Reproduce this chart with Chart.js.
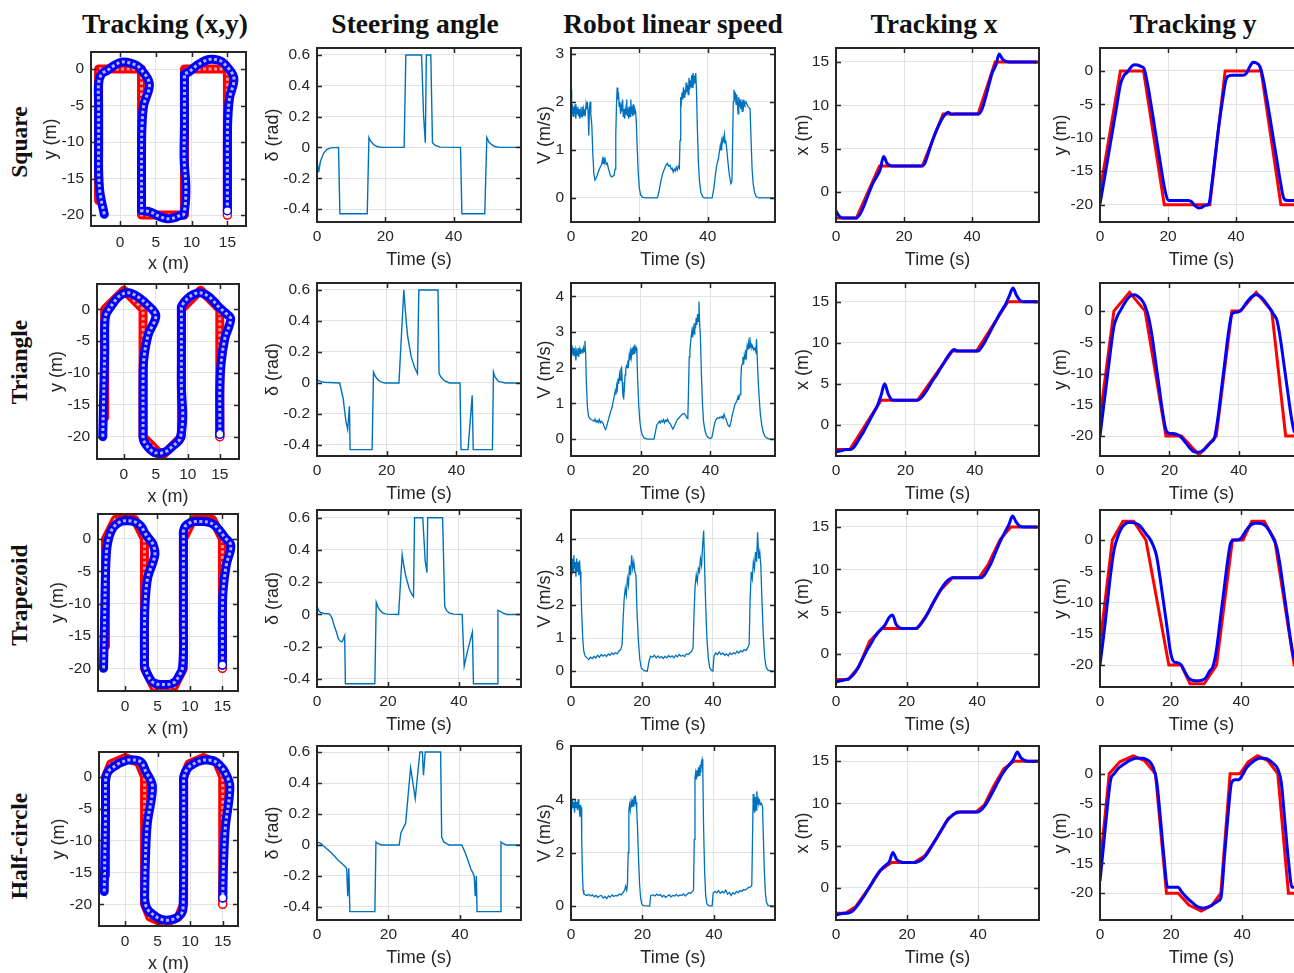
<!DOCTYPE html>
<html>
<head>
<meta charset="utf-8">
<script src="https://cdn.jsdelivr.net/npm/chart.js@4.4.1/dist/chart.umd.min.js"></script>
<style>
html, body { margin: 0; padding: 0; background: #fff; overflow: hidden; }
#fig { position: relative; width: 1294px; height: 973px; overflow: hidden; background: #fff; }
#fig canvas { position: absolute; }
.col-title { position: absolute; font: bold 27.5px "Liberation Serif", "Times New Roman", serif; color: #111;
  white-space: nowrap; line-height: 1; transform: translateX(-50%); }
.row-title { position: absolute; font: bold 23.5px "Liberation Serif", "Times New Roman", serif; color: #111;
  white-space: nowrap; line-height: 1; transform: translate(-50%, -50%) rotate(-90deg); }
</style>
</head>
<body>
<div id="fig"></div>
<script>
// ---------------- labels ----------------
const columnTitles = ['Tracking (x,y)', 'Steering angle', 'Robot linear speed', 'Tracking x', 'Tracking y'];
const shapeNames = ['Square', 'Triangle', 'Trapezoid', 'Half-circle'];

// ---------------- tick values ----------------
const timeTicks = [0, 20, 40];
const planXTicks = [0, 5, 10, 15];
const planYTicks = [0, -5, -10, -15, -20];
const steerTicks = [0.6, 0.4, 0.2, 0, -0.2, -0.4];
const speedTicksSquare = [0, 1, 2, 3];
const speedTicksTriangle = [0, 1, 2, 3, 4];
const speedTicksTrapezoid = [0, 1, 2, 3, 4];
const speedTicksHalf = [0, 2, 4, 6];
const posXTicks = [0, 5, 10, 15];
const posYTicks = [0, -5, -10, -15, -20];

// sample clock of the logged robot pose (s)
const sampleT = [0,1,2,3,4,5,6,7,8,9,10,11,12,13,14,15,16,17,18,19,20,21,22,23,24,25,26,27,28,29,
  30,31,32,33,34,35,36,37,38,39,40,41,42,43,44,45,46,47,48,49,50,51,52,53,54,55,56,57,58,59];

// ---------------- Square ----------------
const sqRefT = [0, 6, 12.8, 18.9, 25.4, 31.5, 32.3, 36.8, 41.8, 46.8, 47.4, 53.2, 59.7];
const sqRefX = [-3, -3, 3, 3, 3, 9, 9, 9, 9, 15, 15, 15, 15];
const sqRefY = [-18, 0, 0, -20, -20, -20, -20, 0, 0, 0, 0, -20, -20];
const sqX = [-2.2,-2.8,-3,-3,-3,-3,-3,-2.6,-1.8,-0.8, 0.2,1.1,1.8,2.6,4.1,3.3,3.05,3,3,3,
  3,3,3,3,3,3,3.2,4.3,5.5,6.6, 7.5,8.3,8.9,9.2,8.95,9,9,9,9,9, 9,9,9,9.6,10.9,12.4,13.8,14.6,15.9,15.3,
  15.05,15,15,15,15,15,15,15,15,15];
const sqY = [-19.9,-17,-14,-11,-8,-5,-2,-0.7,-0.2,0.5, 0.95,0.9,0.7,0.3,-2,-5,-8.2,-11.4,-14.6,-17.6,
  -19.3,-19.4,-19.4,-19.4,-19.4,-19.4,-19.4,-19.6,-20.2,-20.5, -20.4,-20.1,-19.9,-16.5,-12.2,-8,-4.5,-1.4,-0.7,-0.65,
  -0.65,-0.65,-0.65,-0.4,0.6,1.3,1.2,0.7,-1.2,-4, -7,-10.2,-13.3,-16.4,-19,-19.4,-19.4,-19.4,-19.4,-19.4];
const sqSteer = [[0,-0.18],[0.3,-0.13],[0.5,-0.16],[1,-0.09],[2,-0.035],[3,-0.012],[4,-0.003],[6.3,0],[6.7,-0.43],
  [14.7,-0.43],[15.2,0.065],[15.7,0.04],[16.5,0.02],[17.5,0.006],[19,0],[25.5,0],[26,0.6],[30.6,0.6],[31.2,0.2],
  [31.7,0.03],[32,0.6],[33.3,0.6],[33.8,0.03],[34.5,0.015],[36,0.002],[42,0],[42.4,-0.43],[49.1,-0.43],[49.7,0.065],
  [50.3,0.035],[51,0.02],[52,0.006],[53.5,0],[59.7,0]];
const sqSpeed = [[0,2.25],[0.2,1.75],[0.4,1.95],[0.6,1.7],[0.8,1.9],[1,1.8],[1.2,1.95],[1.4,1.65],[1.6,1.85],[1.8,1.75],
  [2,1.9],[2.2,1.7],[2.4,1.85],[2.6,1.65],[2.8,1.8],[3,1.7],[3.2,1.9],[3.4,1.75],[3.6,1.85],[3.8,1.7],[4,1.8],
  [4.2,1.75],[4.4,1.95],[4.6,1.85],[4.8,2],[5,1.8],[5.2,1.3],[5.4,1.85],[5.6,2],[5.8,1.75],[6.1,1.5],[6.4,0.9],
  [6.7,0.5],[7,0.37],[7.4,0.42],[7.8,0.5],[8.2,0.58],[8.6,0.65],[9,0.7],[9.2,0.8],[9.4,0.72],[9.6,0.85],[9.8,0.74],
  [10,0.8],[10.3,0.7],[10.6,0.72],[11,0.6],[11.4,0.5],[11.8,0.44],[12.2,0.45],[12.6,0.47],[12.9,0.6],[13.1,1.3],
  [13.3,1.9],[13.5,2.3],[13.7,2.05],[13.9,2.2],[14.1,1.9],[14.3,2],[14.5,1.75],[14.7,1.9],[14.9,1.8],[15.1,2.05],
  [15.3,1.7],[15.5,1.85],[15.7,1.65],[15.9,1.85],[16.1,1.75],[16.3,2.05],[16.5,1.7],[16.7,1.8],[16.9,1.65],[17.1,1.9],
  [17.3,1.7],[17.5,2.05],[17.7,1.75],[17.9,1.85],[18.1,1.7],[18.3,1.95],[18.5,1.75],[18.7,1.85],[18.9,1.8],[19.1,1.6],
  [19.4,1],[19.7,0.5],[20,0.2],[20.4,0.06],[21,0.01],[22,0],[25.3,0],[25.8,0.15],[26.3,0.35],[26.8,0.5],[27.3,0.6],
  [27.8,0.68],[28.2,0.72],[28.6,0.66],[29,0.68],[29.3,0.6],[29.6,0.62],[29.9,0.54],[30.2,0.6],[30.5,0.56],[30.8,0.64],
  [31.1,0.58],[31.4,0.66],[31.7,0.62],[31.9,1.2],[32.1,2.1],[32.3,2],[32.5,2.2],[32.7,2.05],[32.9,2.3],[33.1,2.1],
  [33.3,2.25],[33.5,2.15],[33.7,2.4],[33.9,2.2],[34.1,2.35],[34.3,2.15],[34.5,2.5],[34.7,2.25],[34.9,2.45],[35.1,2.3],
  [35.3,2.55],[35.5,2.3],[35.7,2.6],[35.9,2.35],[36.1,2.55],[36.3,2.4],[36.5,2.6],[36.7,2.3],[37,1.4],[37.3,0.7],
  [37.6,0.35],[38,0.12],[38.5,0.03],[39,0],[41.3,0],[41.8,0.2],[42.3,0.5],[42.7,0.7],[43.1,0.8],[43.4,0.95],[43.7,1.1],
  [43.9,1],[44.1,1.2],[44.3,1.15],[44.5,1.25],[44.7,1.2],[44.9,1.32],[45.1,1.15],[45.3,1.2],[45.6,1],[46,0.7],[46.4,0.45],
  [46.8,0.3],[47.1,0.35],[47.3,1.2],[47.5,2],[47.7,2.25],[47.9,2.1],[48.1,2.2],[48.3,1.95],[48.5,2.15],[48.7,2],
  [48.9,1.75],[49.1,2.1],[49.3,1.9],[49.5,2.05],[49.7,1.85],[49.9,2],[50.1,1.8],[50.3,2.05],[50.5,1.9],[50.7,2],
  [50.9,1.95],[51.2,2],[51.5,1.95],[51.8,1.9],[52.1,1.88],[52.4,1.85],[52.7,1.2],[53,0.6],[53.3,0.3],[53.7,0.12],
  [54.2,0.03],[55,0],[59.7,0]];

// ---------------- Triangle ----------------
const triRefT = [0, 4, 8.5, 13, 19, 23.5, 28.5, 33.5, 38, 40.5, 45, 49.5, 53.5, 58.5];
const triRefX = [-3, -3, 0, 3, 3, 3, 6, 9, 9, 9, 12, 15, 15, 15];
const triRefY = [-17, 0, 3, 0, -20, -20, -23, -20, 0, 0, 3, 0, -20, -20];
const triX = [-3.3,-3.2,-3.1,-3,-3,-2.8,-2.2,-1.5,-0.8,0, 0.8,1.6,2.4,3.6,5,3.8,3.1,3,3,3,
  3,3,3,3,3.1,3.5,4.1,4.8,5.5,6.1, 6.8,7.5,8.2,8.8,9.2,9,9,9,9,9, 9,9,9.5,10.2,11,11.8,12.6,13.4,14.1,14.8,
  15.8,16.7,15.8,15.2,15,15,15,15,15];
const triY = [-20,-15.5,-11,-6.5,-2.5,-0.8,0.2,1.2,2,2.5, 2.6,2.3,1.8,0.8,-1,-4,-8,-12,-16,-19,
  -19.6,-19.6,-19.7,-20,-20.6,-21.3,-22,-22.5,-22.6,-22.5, -22.2,-21.6,-21,-20.3,-17,-12.5,-8,-3.5,-0.5,-0.2,
  -0.1,0.4,1.2,1.9,2.4,2.6,2.4,1.9,1.2,0.4, -0.5,-1.5,-4.5,-8.5,-12.5,-16.5,-19.3,-19.6,-19.6];
const triSteer = [[0,0.02],[1,0.01],[2,0.005],[6.5,0],[7.5,-0.1],[8.3,-0.25],[8.8,-0.3],[9.3,-0.15],[9.5,-0.43],
  [15.8,-0.43],[16.2,0.07],[16.8,0.04],[17.5,0.02],[18.5,0.005],[19.5,0],[23.5,0],[24.9,0.6],[25.5,0.42],[26,0.3],
  [27,0.17],[28,0.1],[28.8,0.06],[29.2,0.6],[34.7,0.6],[35,0.06],[35.5,0.04],[36.5,0.015],[38,0],[41,0],[41.3,-0.43],
  [43.3,-0.43],[44.5,-0.08],[44.8,-0.43],[50.3,-0.43],[50.6,0.07],[51,0.04],[52,0.01],[54,0],[58.5,0]];
const triSpeed = [[0,2.65],[0.2,2.4],[0.4,2.6],[0.6,2.35],[0.8,2.55],[1,2.4],[1.2,2.5],[1.4,2.2],[1.6,2.45],[1.8,2.35],
  [2,2.55],[2.2,2.3],[2.4,2.5],[2.6,2.4],[2.8,2.5],[3,2.45],[3.2,2.5],[3.4,2.4],[3.6,2.55],[3.8,2.45],[4,2.75],[4.2,2.4],
  [4.4,1.6],[4.7,0.9],[5,0.65],[5.4,0.58],[5.8,0.55],[6.2,0.53],[6.6,0.5],[6.9,0.56],[7.2,0.48],[7.5,0.52],[7.8,0.47],
  [8.1,0.55],[8.4,0.46],[8.7,0.5],[9,0.47],[9.3,0.42],[9.6,0.32],[9.9,0.27],[10.2,0.35],[10.6,0.5],[11,0.65],[11.4,0.78],
  [11.8,0.9],[12.1,1.05],[12.4,1.2],[12.7,1.35],[12.9,1.25],[13.1,1.5],[13.3,1.4],[13.5,1.7],[13.7,1.55],[13.9,1.8],
  [14.1,1.65],[14.3,1.95],[14.5,2],[14.7,1.6],[14.9,1.2],[15.1,1.15],[15.3,1.4],[15.5,1.8],[15.7,1.95],[15.9,2.05],
  [16.1,2],[16.3,2.2],[16.5,2.1],[16.7,2.35],[16.9,2.2],[17.1,2.45],[17.3,2.3],[17.5,2.55],[17.7,2.35],[17.9,2.6],
  [18.1,2.4],[18.3,2.65],[18.5,2.5],[18.7,2.55],[18.9,2.4],[19.1,1.7],[19.4,1],[19.7,0.55],[20,0.3],[20.4,0.12],
  [21,0.03],[22,0],[23.8,0],[24.2,0.2],[24.6,0.4],[25,0.45],[25.3,0.5],[25.6,0.45],[25.9,0.52],[26.2,0.48],[26.5,0.55],
  [26.8,0.46],[27.1,0.53],[27.4,0.5],[27.7,0.56],[28,0.48],[28.4,0.44],[28.8,0.36],[29.2,0.28],[29.6,0.35],[30,0.45],
  [30.5,0.55],[31,0.6],[31.5,0.66],[32,0.7],[32.5,0.72],[32.9,0.66],[33.2,0.6],[33.5,0.58],[33.7,1.4],[33.9,2.3],
  [34.1,2.5],[34.3,2.7],[34.5,2.9],[34.7,3.05],[34.9,2.85],[35.1,3.1],[35.3,2.95],[35.5,3.25],[35.7,3.1],[35.9,3.4],
  [36.1,3.2],[36.3,3.5],[36.5,3.3],[36.7,3.85],[36.9,3.2],[37.1,2.9],[37.4,1.8],[37.7,1],[38,0.5],[38.4,0.25],
  [38.8,0.12],[39.3,0.05],[40,0.02],[40.4,0.05],[40.8,0.25],[41.2,0.45],[41.6,0.55],[42,0.6],[42.4,0.58],[42.7,0.62],
  [43,0.6],[43.3,0.64],[43.6,0.58],[43.9,0.7],[44.2,0.6],[44.5,0.55],[44.8,0.45],[45.1,0.38],[45.5,0.35],[45.9,0.5],
  [46.3,0.7],[46.7,0.85],[47.1,1],[47.5,1.05],[47.9,1.2],[48.1,1.1],[48.3,1.2],[48.5,1.25],[48.7,1.65],[48.9,2.05],
  [49.1,2.1],[49.3,2.3],[49.5,2.1],[49.7,2.35],[49.9,2.25],[50.1,2.5],[50.3,2.35],[50.5,2.6],[50.7,2.5],[50.9,2.7],
  [51.1,2.55],[51.3,2.85],[51.5,2.6],[51.7,2.65],[51.9,2.55],[52.1,2.6],[52.4,2.5],[52.7,2.55],[53,2.45],[53.2,2.8],
  [53.4,2.3],[53.7,1.6],[54,1.1],[54.3,0.7],[54.7,0.4],[55.1,0.2],[55.6,0.08],[56.2,0.03],[57,0],[58.5,0]];

// ---------------- Trapezoid ----------------
const trapRefT = [0, 3.5, 6.5, 9.5, 13, 19.5, 23, 25.5, 29.5, 33, 37.5, 40.5, 43, 46.5, 49.5, 55, 57.5];
const trapRefX = [-3, -3, -1.5, 1.5, 3, 3, 3, 4.5, 7.5, 9, 9, 9, 10.5, 13.5, 15, 15, 15];
const trapRefY = [-16.6, 0, 3, 3, 0, -20, -20, -23, -23, -20, 0, 0, 3, 3, 0, -20, -20];
const trapX = [-3.3,-3.2,-3.1,-3,-2.8,-2.4,-1.8,-1,-0.2,0.6, 1.3,2,2.6,3,3.5,4.3,4.6,3.5,3.1,3,
  3,3,3,3.1,3.5,4.1,4.8,5.6,6.4,7.1, 7.8,8.4,8.8,9,9,9,9,9,9,9, 9,9,9.3,10,10.8,11.8,12.8,13.7,14.5,15.3,
  16.3,15.6,15.1,15,15,15,15,15];
const trapY = [-20,-15.5,-10.5,-5.5,-1.5,0.5,1.8,2.5,2.8,2.8, 2.7,2.4,1.8,1,0.3,-0.8,-2.5,-6,-10,-14,
  -18,-19.5,-19.6,-20,-21,-22,-22.4,-22.5,-22.5,-22.4, -22,-21,-20.2,-17.5,-13,-8.5,-4,-0.5,0,0,
  0.3,1.2,2,2.5,2.7,2.7,2.6,2.2,1.4,0.3, -1,-4,-8,-12,-16,-19,-19.5,-19.5];
const trapSteer = [[0,0.05],[0.5,0.025],[1,0.012],[2,0.006],[3.5,0.004],[4.2,-0.02],[5,-0.08],[5.5,-0.11],[6,-0.15],
  [6.5,-0.165],[7,-0.17],[7.3,-0.16],[7.8,-0.13],[8,-0.43],[16.3,-0.43],[16.7,0.075],[17.2,0.045],[17.8,0.025],
  [18.5,0.01],[19.5,0.002],[23,0],[24,0.37],[24.5,0.3],[25,0.24],[25.5,0.2],[26,0.16],[26.6,0.13],[27.2,0.11],
  [27.5,0.6],[29.8,0.6],[30.2,0.45],[30.5,0.33],[31,0.26],[31.2,0.6],[35.4,0.6],[36,0.05],[36.5,0.025],[37.2,0.01],
  [38.5,0.002],[40.9,0],[41.5,-0.32],[42.5,-0.22],[43.8,-0.11],[44.1,-0.43],[50.8,-0.43],[51,0.025],[51.5,0.02],
  [52.5,0.008],[53.5,0],[57.5,0]];
const trapSpeed = [[0,3.2],[0.2,2.9],[0.4,3.4],[0.6,3],[0.8,3.5],[1,3.1],[1.2,3.3],[1.4,2.85],[1.6,3.4],[1.8,3],
  [2,3.3],[2.2,2.9],[2.4,3.35],[2.6,3],[2.8,2.6],[3,1.8],[3.3,1],[3.6,0.6],[4,0.45],[4.5,0.4],[5,0.35],[5.5,0.42],
  [6,0.38],[6.5,0.45],[7,0.4],[7.5,0.48],[8,0.42],[8.5,0.5],[9,0.45],[9.5,0.5],[10,0.44],[10.5,0.52],[11,0.48],
  [11.5,0.55],[12,0.5],[12.5,0.56],[13,0.52],[13.5,0.6],[14,0.65],[14.4,0.8],[14.7,1.6],[15,2.2],[15.3,2.5],[15.6,2.3],
  [15.9,2.8],[16.2,2.6],[16.5,3.2],[16.8,2.9],[17.1,3.5],[17.4,3.1],[17.7,3.3],[18,3],[18.3,2.9],[18.6,1.8],[19,0.9],
  [19.4,0.35],[19.8,0.1],[20.5,0.02],[21.5,0],[22,0.3],[22.4,0.45],[23,0.42],[23.5,0.48],[24,0.4],[24.5,0.46],[25,0.4],
  [25.5,0.44],[26,0.38],[26.5,0.45],[27,0.4],[27.5,0.47],[28,0.42],[28.5,0.46],[29,0.4],[29.5,0.48],[30,0.43],
  [30.5,0.5],[31,0.45],[31.5,0.48],[32,0.44],[32.5,0.52],[33,0.5],[33.5,0.55],[34,0.6],[34.4,0.7],[34.7,1.8],[35,2.6],
  [35.3,2.9],[35.6,2.7],[35.9,3.1],[36.2,3],[36.5,3.4],[36.8,3.2],[37.1,3.8],[37.4,4.25],[37.6,3.4],[37.9,2.2],[38.3,1],
  [38.7,0.4],[39.1,0.1],[39.6,0.02],[40,0],[40.3,0.45],[40.8,0.55],[41.3,0.5],[41.8,0.58],[42.3,0.5],[42.8,0.55],
  [43.3,0.48],[43.8,0.52],[44.3,0.46],[44.8,0.55],[45.3,0.5],[45.8,0.56],[46.3,0.52],[46.8,0.6],[47.3,0.55],[47.8,0.62],
  [48.3,0.58],[48.8,0.65],[49.3,0.62],[49.8,0.7],[50.2,0.8],[50.5,2.2],[50.8,3],[51.1,2.8],[51.4,3.3],[51.7,3.1],
  [52,3.6],[52.3,3.3],[52.6,4.2],[52.9,3.4],[53.2,3.6],[53.5,3.2],[53.8,2.2],[54.2,1.1],[54.6,0.4],[55,0.12],[55.5,0.03],
  [56.5,0],[57.5,0]];

// ---------------- Half-circle ----------------
const halfRefT = [0, 2.6, 5.6, 9.3, 12.5, 15.6, 18.7, 22, 25, 28.5, 31.5, 34, 36.6, 39.4, 41.7, 44.3, 47.2, 50, 53, 57.1];
const halfRefX = [-3, -3, -2.2, 0, 2.1, 3, 3, 3, 3.8, 6, 8.2, 9, 9, 9, 9.8, 12, 14.1, 15, 15, 15];
const halfRefY = [-15.5, 0, 2, 3, 2.2, 0, -20, -20, -22, -23, -22, -20, 0, 0, 2, 3, 2.2, 0, -20, -20];
const halfX = [-3.2,-3.1,-3,-3,-2.9,-2.6,-2.1,-1.5,-0.9,-0.2, 0.5,1.2,1.8,2.3,2.7,3.1,4.2,3.4,3.1,3,
  3,3,3,3.1,3.3,3.7,4.3,5,5.7,6.4, 7.1,7.8,8.3,8.7,8.9,9,9,9,9,9, 9,9.3,9.8,10.5,11.3,12.1,12.9,13.6,14.2,14.7,
  15.3,16.1,15.4,15.1,15,15,15,15];
const halfY = [-18,-12,-6,-1,0,0.8,1.3,1.7,2.1,2.4, 2.6,2.6,2.6,2.4,2,1,-1.5,-7.5,-14,-19,
  -19,-19,-19,-19.8,-20.5,-21.1,-21.6,-22.1,-22.4,-22.5, -22.4,-22.2,-21.8,-21.4,-20.8,-14,-7,-1.5,-1,-1,
  -0.3,0.8,1.5,2,2.4,2.6,2.6,2.5,2.1,1.6, 0.8,-1.5,-8,-14.5,-19,-19,-19,-19];
const halfSteer = [[0,0.02],[1,0.01],[2,-0.01],[4,-0.05],[6,-0.1],[7.5,-0.13],[8.3,-0.15],[8.6,-0.33],[8.9,-0.15],
  [9.2,-0.43],[16.2,-0.43],[16.5,0.02],[17,0.01],[18,0],[23,0],[23.5,0.08],[24.8,0.14],[26.2,0.5],[27.5,0.3],
  [28.8,0.6],[29.5,0.6],[29.8,0.45],[30.3,0.6],[34.6,0.6],[34.9,0.05],[35.5,0.02],[37,0],[40.5,0],[41.5,-0.05],
  [43,-0.15],[44,-0.2],[44.3,-0.33],[44.6,-0.2],[44.8,-0.43],[51.3,-0.43],[51.5,0.02],[52,0.01],[53,0],[57.1,0]];
const halfSpeed = [[0,3.8],[0.2,3.6],[0.4,4],[0.6,3.7],[0.8,3.9],[1,3.5],[1.2,4],[1.4,3.7],[1.6,3.9],[1.8,3.6],[2,4],
  [2.2,3.7],[2.4,3.5],[2.6,3.8],[2.7,3.35],[2.9,3.7],[3,2.5],[3.2,1.2],[3.4,0.6],[3.6,0.45],[4,0.42],[4.5,0.4],[5,0.44],
  [5.5,0.38],[6,0.42],[6.5,0.35],[7,0.4],[7.5,0.33],[8,0.38],[8.5,0.4],[9,0.3],[9.5,0.36],[10,0.28],[10.5,0.38],
  [11,0.34],[11.5,0.42],[12,0.36],[12.5,0.4],[13,0.38],[13.5,0.45],[14,0.42],[14.5,0.5],[15,0.6],[15.3,0.75],[15.6,0.6],
  [15.8,0.8],[16,2],[16.2,3.6],[16.4,3.8],[16.6,3.6],[16.8,3.9],[17,3.7],[17.2,4],[17.4,3.75],[17.6,4.1],[17.8,3.8],
  [18,4.15],[18.2,3.9],[18.4,3.6],[18.6,3],[18.9,1.8],[19.2,0.8],[19.5,0.3],[19.8,0.08],[20.2,0.02],[22,0],[22.3,0.4],
  [23,0.42],[23.5,0.38],[24,0.45],[24.5,0.4],[25,0.43],[25.5,0.35],[26,0.4],[26.5,0.33],[27,0.38],[27.5,0.42],[28,0.35],
  [28.5,0.4],[29,0.38],[29.5,0.44],[30,0.37],[30.5,0.42],[31,0.4],[31.5,0.46],[32,0.38],[32.5,0.45],[33,0.5],[33.5,0.48],
  [34,0.55],[34.3,0.6],[34.5,2.5],[34.7,4.8],[34.9,5],[35.1,4.75],[35.3,5.1],[35.5,4.85],[35.7,5.2],[35.9,4.9],[36.1,5.3],
  [36.3,5],[36.5,5.4],[36.7,5.5],[36.9,5],[37.1,3],[37.4,1.3],[37.7,0.4],[38,0.1],[38.5,0.02],[39.5,0],[39.8,0.5],
  [40.3,0.55],[40.8,0.5],[41.3,0.58],[41.8,0.48],[42.3,0.55],[42.8,0.5],[43.3,0.6],[43.8,0.45],[44.3,0.52],[44.8,0.4],
  [45.3,0.5],[45.8,0.45],[46.3,0.55],[46.8,0.5],[47.3,0.58],[47.8,0.55],[48.3,0.62],[48.8,0.6],[49.3,0.66],[49.8,0.7],
  [50.3,0.72],[50.6,0.78],[50.8,2.5],[51,4.2],[51.2,3.7],[51.4,3.5],[51.6,4.1],[51.8,3.6],[52,4.3],[52.2,3.8],[52.4,4],
  [52.6,3.85],[52.8,3.95],[53,3.8],[53.3,3.85],[53.6,3.75],[53.8,2.8],[54.1,1.4],[54.4,0.5],[54.7,0.15],[55.2,0.02],
  [57.1,0]];

// ---------------- figure layout ----------------
const INK = '#262626';
const GRID = '#e3e3e3';
const REF_RED = '#ff0000';
const ACT_BLUE = '#0000ff';
const LINE_BLUE = '#0072bd';
const PL = 72, PT = 20, PR = 10, PB = 52;   // canvas margins around each plot box
Chart.defaults.font.family = '"Liberation Sans", Arial, sans-serif';

const fig = document.getElementById('fig');

const titleX = [165, 415, 673, 934, 1193];
const rowCenterY = [142, 362, 595, 846];
const rowTop = [48, 283, 510, 746];
const rowBottom = [222, 456, 687, 920];
const planBox = [[91, 52, 246, 226], [97, 284, 239, 459], [98, 514, 238, 691], [99, 752, 238, 926]];
const planRange = [
  { x: [-4.06, 17.6], y: [-21.5, 2.33] },
  { x: [-4.2, 18.0], y: [-23.5, 3.97] },
  { x: [-4.15, 17.4], y: [-23.5, 3.86] },
  { x: [-4.0, 17.35], y: [-23.4, 3.87] }
];
const tEnd = [59.7, 58.5, 57.5, 57.1];
const steerRange = [[-0.484, 0.645], [-0.471, 0.645], [-0.45, 0.648], [-0.484, 0.639]];
const speedRange = [[-0.5, 3.12], [-0.47, 4.37], [-0.48, 4.87], [-0.52, 6.0]];
const posXRange = [[-3.46, 16.6], [-3.8, 17.3], [-3.9, 17.0], [-3.8, 16.8]];
const posYRange = [[-22.6, 3.44], [-23.2, 4.5], [-23.5, 4.8], [-24.5, 4.64]];

const rows = [
  { refT: sqRefT, refX: sqRefX, refY: sqRefY, x: sqX, y: sqY, steer: sqSteer, speed: sqSpeed, vTicks: speedTicksSquare },
  { refT: triRefT, refX: triRefX, refY: triRefY, x: triX, y: triY, steer: triSteer, speed: triSpeed, vTicks: speedTicksTriangle },
  { refT: trapRefT, refX: trapRefX, refY: trapRefY, x: trapX, y: trapY, steer: trapSteer, speed: trapSpeed, vTicks: speedTicksTrapezoid },
  { refT: halfRefT, refX: halfRefX, refY: halfRefY, x: halfX, y: halfY, steer: halfSteer, speed: halfSpeed, vTicks: speedTicksHalf }
];

// ---------------- titles ----------------
columnTitles.forEach((txt, i) => {
  const d = document.createElement('div');
  d.className = 'col-title';
  d.textContent = txt;
  d.style.left = titleX[i] + 'px';
  d.style.top = (33 - 0.8375 * 27.5) + 'px';
  fig.appendChild(d);
});
shapeNames.forEach((txt, i) => {
  const d = document.createElement('div');
  d.className = 'row-title';
  d.textContent = txt;
  d.style.left = '19.5px';
  d.style.top = rowCenterY[i] + 'px';
  fig.appendChild(d);
});

// ---------------- helpers ----------------
const zipXY = (xs, ys) => xs.map((v, i) => ({ x: v, y: ys[i] }));
const pairs = (arr) => arr.map(p => ({ x: p[0], y: p[1] }));

// frame with inward tick marks on all four sides
const framePlugin = {
  id: 'frame',
  afterDraw(chart) {
    const { ctx, chartArea: a, scales: { x, y } } = chart;
    const TL = 5;
    ctx.save();
    ctx.strokeStyle = INK;
    ctx.lineWidth = 1.5;
    ctx.beginPath();
    x.ticks.forEach(t => {
      const p = Math.round(x.getPixelForValue(t.value)) + 0.5;
      if (p < a.left + 2 || p > a.right - 2) return;
      ctx.moveTo(p, a.bottom); ctx.lineTo(p, a.bottom - TL);
      ctx.moveTo(p, a.top); ctx.lineTo(p, a.top + TL);
    });
    y.ticks.forEach(t => {
      const p = Math.round(y.getPixelForValue(t.value)) + 0.5;
      if (p < a.top + 2 || p > a.bottom - 2) return;
      ctx.moveTo(a.left, p); ctx.lineTo(a.left + TL, p);
      ctx.moveTo(a.right, p); ctx.lineTo(a.right - TL, p);
    });
    ctx.stroke();
    ctx.lineWidth = 2;
    ctx.strokeRect(a.left, a.top, a.right - a.left, a.bottom - a.top);
    ctx.restore();
  }
};

function axis(which, range, ticks, title, tickPad, titlePad) {
  return {
    type: 'linear', min: range[0], max: range[1],
    afterFit: s => { if (which === 'x') s.height = PB; else s.width = PL; },
    afterBuildTicks: s => { s.ticks = ticks.map(v => ({ value: v })); },
    grid: { color: GRID, lineWidth: 1, drawTicks: false },
    border: { display: false },
    ticks: { autoSkip: false, maxRotation: 0, padding: tickPad, color: INK, font: { size: 15.5 }, callback: v => String(v) },
    title: {
      display: true, text: title, color: INK, font: { size: 18 },
      padding: which === 'x' ? { top: 0, bottom: titlePad } : { top: titlePad, bottom: 0 }
    }
  };
}

function panel(box, o) {
  const W = box[2] - box[0], H = box[3] - box[1];
  const cv = document.createElement('canvas');
  cv.width = Math.round(W + PL + PR);
  cv.height = Math.round(H + PT + PB);
  cv.style.left = (box[0] - PL) + 'px';
  cv.style.top = (box[1] - PT) + 'px';
  fig.appendChild(cv);
  return new Chart(cv.getContext('2d'), {
    type: 'line',
    data: { datasets: o.datasets },
    options: {
      responsive: false, animation: false, devicePixelRatio: 1,
      layout: { padding: { left: 0, top: PT, right: PR, bottom: 0 } },
      elements: { point: { radius: 0, hoverRadius: 0 } },
      plugins: { legend: { display: false }, tooltip: { enabled: false } },
      events: [],
      scales: {
        x: axis('x', o.xr, o.xt, o.xTitle, o.xPad ?? 5.4, o.xTitlePad ?? 2.7),
        y: axis('y', o.yr, o.yt, o.yTitle, o.yPad ?? 7, PL - o.yTitleOff - 10.8)
      }
    },
    plugins: [framePlugin]
  });
}

const lastOnly = (r) => (c) => (c.dataIndex === c.dataset.data.length - 1 ? r : 0);

// ---------------- build the 4 x 5 grid ----------------
rows.forEach((r, i) => {
  const refPath = zipXY(r.refX, r.refY);
  const actPath = zipXY(r.x, r.y);

  // planar tracking: reference and robot paths drawn as wide marker bands
  panel(planBox[i], {
    xr: planRange[i].x, yr: planRange[i].y, xt: planXTicks, yt: planYTicks,
    xTitle: 'x (m)', yTitle: 'y (m)', yTitleOff: 40, xPad: i === 0 ? 7 : 6, xTitlePad: 2.7,
    datasets: [
      { data: actPath, order: 0, borderColor: 'rgba(255,255,255,0.7)', borderWidth: 3, borderDash: [3, 2.5], tension: 0.35, pointRadius: 0 },
      { data: actPath, order: 1, borderColor: ACT_BLUE, borderWidth: 9, tension: 0.35, borderCapStyle: 'round', borderJoinStyle: 'round',
        pointRadius: lastOnly(4), pointBackgroundColor: '#fff', pointBorderColor: ACT_BLUE, pointBorderWidth: 1.5 },
      { data: refPath, order: 2, borderColor: 'rgba(255,255,255,0.6)', borderWidth: 3, borderDash: [3, 2.5], tension: 0, pointRadius: 0 },
      { data: refPath, order: 3, borderColor: REF_RED, borderWidth: 9, tension: 0, borderCapStyle: 'round', borderJoinStyle: 'round',
        pointRadius: lastOnly(4), pointBackgroundColor: '#fff', pointBorderColor: REF_RED, pointBorderWidth: 1.5 }
    ]
  });

  // steering angle
  panel([317, rowTop[i], 521, rowBottom[i]], {
    xr: [0, tEnd[i]], yr: steerRange[i], xt: timeTicks, yt: steerTicks,
    xTitle: 'Time (s)', yTitle: 'δ (rad)', yTitleOff: 44,
    datasets: [{ data: pairs(r.steer), borderColor: LINE_BLUE, borderWidth: 1.4, tension: 0 }]
  });

  // linear speed
  panel([571, rowTop[i], 775, rowBottom[i]], {
    xr: [0, tEnd[i]], yr: speedRange[i], xt: timeTicks, yt: r.vTicks,
    xTitle: 'Time (s)', yTitle: 'V (m/s)', yTitleOff: 26,
    datasets: [{ data: pairs(r.speed), borderColor: LINE_BLUE, borderWidth: 1.3, tension: 0 }]
  });

  // x(t)
  panel([836, rowTop[i], 1039, rowBottom[i]], {
    xr: [0, tEnd[i]], yr: posXRange[i], xt: timeTicks, yt: posXTicks,
    xTitle: 'Time (s)', yTitle: 'x (m)', yTitleOff: 33,
    datasets: [
      { data: zipXY(sampleT.slice(0, r.x.length), r.x), order: 0, borderColor: ACT_BLUE, borderWidth: 3, cubicInterpolationMode: 'monotone' },
      { data: zipXY(r.refT, r.refX), order: 1, borderColor: REF_RED, borderWidth: 3, tension: 0 }
    ]
  });

  // y(t)
  panel([1100, rowTop[i], 1303, rowBottom[i]], {
    xr: [0, tEnd[i]], yr: posYRange[i], xt: timeTicks, yt: posYTicks,
    xTitle: 'Time (s)', yTitle: 'y (m)', yTitleOff: 39,
    datasets: [
      { data: zipXY(sampleT.slice(0, r.y.length), r.y), order: 0, borderColor: ACT_BLUE, borderWidth: 3, cubicInterpolationMode: 'monotone' },
      { data: zipXY(r.refT, r.refY), order: 1, borderColor: REF_RED, borderWidth: 3, tension: 0 }
    ]
  });
});
</script>
</body>
</html>
